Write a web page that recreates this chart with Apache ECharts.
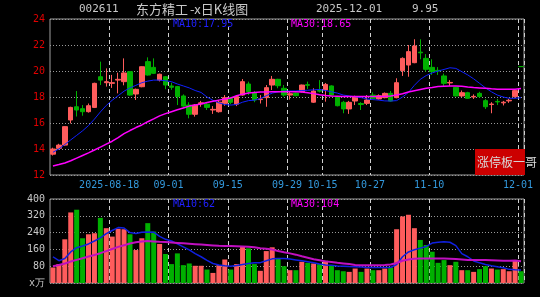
<!DOCTYPE html>
<html><head><meta charset="utf-8">
<script src="https://cdn.jsdelivr.net/npm/echarts@6/dist/echarts.min.js"></script>
<style>html,body{margin:0;padding:0;background:#000;}#c{width:540px;height:297px;}</style>
</head><body><div id="c"></div>
<script>
const dates = [
'2025-08-04','2025-08-05','2025-08-06','2025-08-07','2025-08-08','2025-08-11','2025-08-12','2025-08-13','2025-08-14','2025-08-15',
'2025-08-18','2025-08-19','2025-08-20','2025-08-21','2025-08-22','2025-08-25','2025-08-26','2025-08-27','2025-08-28','2025-08-29',
'2025-09-01','2025-09-02','2025-09-03','2025-09-04','2025-09-05','2025-09-08','2025-09-09','2025-09-10','2025-09-11','2025-09-12',
'2025-09-15','2025-09-16','2025-09-17','2025-09-18','2025-09-19','2025-09-22','2025-09-23','2025-09-24','2025-09-25','2025-09-26',
'2025-09-29','2025-09-30','2025-10-09','2025-10-10','2025-10-13','2025-10-14','2025-10-15','2025-10-16','2025-10-17','2025-10-20',
'2025-10-21','2025-10-22','2025-10-23','2025-10-24','2025-10-27','2025-10-28','2025-10-29','2025-10-30','2025-10-31','2025-11-03',
'2025-11-04','2025-11-05','2025-11-06','2025-11-07','2025-11-10','2025-11-11','2025-11-12','2025-11-13','2025-11-14','2025-11-17',
'2025-11-18','2025-11-19','2025-11-20','2025-11-21','2025-11-24','2025-11-25','2025-11-26','2025-11-27','2025-11-28','2025-12-01'];

const opens = [13.6,14.05,14.3,16.23,17.25,17.1,16.87,17.2,19.56,19.1,
19.05,19.3,19.18,19.95,18.23,18.79,20.72,20.28,19.3,19.56,
18.85,18.8,18.08,17.38,16.67,17.48,17.45,17.0,16.87,17.51,
17.9,17.44,18.15,19.0,18.33,17.8,17.95,18.92,19.36,18.67,
18.15,18.3,18.41,18.95,17.6,18.5,18.54,18.85,18.03,17.59,
17.08,17.69,17.5,17.51,18.15,17.85,17.95,18.28,17.95,20.03,
20.46,20.64,21.45,20.97,20.28,20.05,19.62,19.08,18.74,18.08,
18.33,18.0,18.28,17.72,17.42,17.66,17.55,17.7,18.03,20.34];

const closes = [14.0,14.3,15.72,17.2,17.0,16.87,17.33,19.05,19.3,19.18,
19.1,19.36,19.85,18.15,18.59,20.33,19.69,19.82,19.75,18.92,
18.75,18.03,17.3,16.67,17.38,17.55,17.2,17.05,17.6,17.95,
17.59,18.03,19.18,18.41,17.77,17.85,18.72,19.36,18.87,18.15,
18.25,18.1,18.92,18.9,18.46,18.45,18.97,18.15,17.33,17.08,
17.59,18.03,17.42,17.77,17.9,18.1,18.28,17.69,19.1,20.97,
21.49,21.92,21.4,20.13,19.95,20.0,19.05,19.12,18.08,18.33,
17.9,18.05,18.03,17.25,17.46,17.62,17.6,17.75,18.49,20.34];

const lows = [13.5,13.95,14.25,15.97,16.5,16.56,16.8,17.15,18.92,18.8,
18.7,18.28,18.9,18.1,17.77,18.75,19.65,19.78,19.2,18.6,
18.55,17.38,17.2,16.36,16.49,17.25,17.0,16.7,16.8,17.33,
17.45,17.3,18.1,18.15,17.6,17.5,17.25,18.54,18.67,18.03,
17.8,18.05,18.35,18.62,17.55,18.35,17.64,18.1,17.28,16.75,
16.7,17.38,17.0,17.38,17.85,17.8,17.9,17.65,17.9,19.62,
19.56,20.6,20.9,19.95,19.7,19.7,18.85,18.85,18.05,18.0,
17.85,17.85,17.95,17.08,16.75,17.38,17.35,17.55,17.95,20.34];

const highs = [14.1,14.4,15.75,17.25,18.46,17.38,17.5,19.1,20.72,20.2,
19.7,19.87,20.97,20.0,18.65,20.35,21.05,20.97,19.8,19.6,
19.1,18.85,18.2,17.6,17.45,17.7,17.55,17.3,17.77,18.15,
18.0,18.1,19.38,19.18,18.46,18.15,18.92,19.62,19.4,18.92,
18.45,18.35,18.95,19.18,18.67,19.3,19.08,18.9,18.08,17.7,
17.7,18.1,17.6,18.15,18.36,18.2,18.35,18.46,19.44,21.05,
22.0,22.44,22.44,21.3,20.9,20.3,19.8,19.3,18.78,18.5,
18.4,18.2,18.4,17.85,17.6,17.85,17.7,17.85,18.55,20.34];

const volumes = [74,90,208,336,349,213,232,237,310,261,
221,258,256,232,157,213,285,245,186,138,
90,141,85,93,82,82,64,48,85,112,
64,90,176,165,90,58,152,170,117,80,
61,61,101,96,93,90,106,85,61,56,
53,69,53,69,61,61,69,74,256,317,
325,261,205,181,149,96,109,85,101,61,
61,53,66,80,69,64,66,56,109,56];

const ma10 = [13.75,14.0,14.35,14.7,15.05,15.4,15.8,16.3,16.85,17.35,
17.75,18.1,18.45,18.7,18.9,19.1,19.22,19.3,19.3,19.25,
19.18,19.0,18.85,18.7,18.5,18.35,18.0,17.75,17.55,17.42,
17.38,17.42,17.6,17.72,17.76,17.88,18.1,18.3,18.4,18.45,
18.46,18.46,18.5,18.52,18.55,18.58,18.5,18.4,18.3,18.15,
18.08,18.02,17.95,17.85,17.8,17.76,17.7,17.69,17.72,18.0,
18.35,18.9,19.36,19.65,19.85,20.0,20.12,20.25,20.2,19.95,
19.7,19.4,19.05,18.7,18.4,18.15,18.0,17.9,17.9,17.95];

const ma30 = [12.7,12.8,12.92,13.1,13.3,13.5,13.7,13.92,14.15,14.38,
14.6,14.88,15.18,15.42,15.65,15.85,16.1,16.32,16.55,16.72,
16.87,17.02,17.16,17.3,17.38,17.46,17.57,17.67,17.76,17.84,
17.92,18.1,18.22,18.3,18.35,18.38,18.38,18.4,18.41,18.41,
18.41,18.41,18.38,18.33,18.26,18.18,18.12,18.08,18.06,18.04,
18.03,18.03,18.03,18.03,18.03,18.03,18.05,18.08,18.15,18.25,
18.38,18.48,18.58,18.67,18.73,18.8,18.83,18.85,18.85,18.82,
18.77,18.73,18.7,18.67,18.63,18.6,18.59,18.59,18.6,18.65];

const volMa10 = [125,106,117,148,168,176,186,200,215,235,
250,264,262,240,236,242,243,242,222,208,
200,186,172,158,140,125,108,93,86,82,
80,83,88,93,96,97,106,115,117,117,
114,110,106,101,96,90,86,84,81,80,
78,77,76,74,74,74,74,74,88,125,
148,158,166,174,190,194,196,194,178,140,
125,105,96,88,82,77,73,65,63,62];

const volMa30 = [80,86,93,102,110,118,126,133,142,152,
162,172,180,188,194,198,200,198,196,195,
193,191,189,187,185,183,181,179,177,176,
176,175,174,173,170,166,163,159,152,146,
141,135,127,120,113,108,103,100,96,93,
90,86,85,85,85,85,86,88,95,106,
112,116,117,117,117,117,117,116,114,112,
110,109,109,109,108,107,106,106,107,104];

const tickDates = ['2025-08-18','2025-09-01','2025-09-15','2025-09-29','2025-10-15','2025-10-27','2025-11-10','2025-12-01'];
const tickLabels = ['2025-08-18','09-01','09-15','09-29','10-15','10-27','11-10','12-01'];

const UP = '#ff5c5c', DOWN = '#00b000';
const MONO = '"DejaVu Sans Mono", monospace';
const CJK = '"Noto Sans CJK SC", sans-serif';

const tickIdx = new Set(tickDates.map(d => dates.indexOf(d)));
const labelOf = {};
tickDates.forEach((d, i) => { labelOf[d] = tickLabels[i]; });

const kData = dates.map((d, i) => {
  const item = { value: [opens[i], closes[i], lows[i], highs[i]] };
  if (opens[i] === closes[i]) item.itemStyle = { color: DOWN, borderColor: DOWN };
  return item;
});
const volData = dates.map((d, i) => ({
  value: volumes[i],
  itemStyle: { color: closes[i] > opens[i] ? UP : DOWN }
}));

const vSplit = { show: true, interval: (i) => tickIdx.has(i), lineStyle: { color: '#d0d0d0', type: [4, 3], width: 1 } };
const hSplit = { show: true, lineStyle: { color: '#9a9a9a', type: [1, 2], width: 1 } };

function txt(x, y, text, fill, font) {
  return { type: 'text', x: x, y: y, silent: true, z: 100,
    style: { text: text, fill: fill, font: font, verticalAlign: 'middle', align: 'left' } };
}

const chart = echarts.init(document.getElementById('c'), null, { renderer: 'canvas' });
chart.setOption({
  backgroundColor: '#000',
  animation: false,
  grid: [
    { left: 50, right: 16, top: 19, height: 156, show: true, borderColor: '#a0a0a0', borderWidth: 1 },
    { left: 50, right: 16, top: 199, height: 84, show: true, borderColor: '#a0a0a0', borderWidth: 1 }
  ],
  xAxis: [
    { type: 'category', gridIndex: 0, data: dates, boundaryGap: true,
      axisLine: { show: false }, axisTick: { show: false },
      axisLabel: { interval: (i) => tickIdx.has(i), formatter: (v) => labelOf[v] || '', color: '#3399dd',
        fontFamily: 'DejaVu Sans Mono', fontSize: 10, margin: 5, padding: [0, 6, 0, 0], hideOverlap: false },
      splitLine: vSplit },
    { type: 'category', gridIndex: 1, data: dates, boundaryGap: true,
      axisLine: { show: false }, axisTick: { show: false }, axisLabel: { show: false },
      splitLine: vSplit }
  ],
  yAxis: [
    { type: 'value', gridIndex: 0, min: 12, max: 24, interval: 2,
      axisLine: { show: false }, axisTick: { show: false },
      axisLabel: { color: '#e00000', fontFamily: 'DejaVu Sans Mono', fontSize: 10, margin: 5 },
      splitLine: hSplit },
    { type: 'value', gridIndex: 1, min: 0, max: 400, interval: 80,
      axisLine: { show: false }, axisTick: { show: false },
      axisLabel: { color: '#c8c8c8', fontFamily: 'DejaVu Sans Mono', fontSize: 10, margin: 5,
        formatter: (v) => v === 0 ? 'x万' : String(v) },
      splitLine: hSplit }
  ],
  series: [
    { type: 'candlestick', xAxisIndex: 0, yAxisIndex: 0, data: kData, barWidth: 5,
      itemStyle: { color: UP, color0: DOWN, borderColor: UP, borderColor0: DOWN, borderWidth: 1 } },
    { type: 'line', xAxisIndex: 0, yAxisIndex: 0, data: ma10, symbol: 'none', lineStyle: { color: '#1020ff', width: 1 } },
    { type: 'line', xAxisIndex: 0, yAxisIndex: 0, data: ma30, symbol: 'none', lineStyle: { color: '#ff00ff', width: 1.5 } },
    { type: 'bar', xAxisIndex: 1, yAxisIndex: 1, data: volData, barWidth: 5 },
    { type: 'line', xAxisIndex: 1, yAxisIndex: 1, data: volMa10, symbol: 'none', lineStyle: { color: '#1020e0', width: 1.5 } },
    { type: 'line', xAxisIndex: 1, yAxisIndex: 1, data: volMa30, symbol: 'none', lineStyle: { color: '#c010c0', width: 2 } }
  ],
  graphic: [
    txt(79, 9.5, '002611', '#c8c8c8', '11px ' + MONO),
    txt(136, 9.5, '东方精工', '#c8c8c8', '13px ' + CJK),
    txt(190, 9.5, '-x日K线图', '#c8c8c8', '13px ' + CJK),
    txt(316, 9.5, '2025-12-01', '#c8c8c8', '11px ' + MONO),
    txt(412, 9.5, '9.95', '#c8c8c8', '11px ' + MONO),
    txt(173, 24, 'MA10:17.95', '#2020ff', '10px ' + MONO),
    txt(291, 24, 'MA30:18.65', '#ff00ff', '10px ' + MONO),
    txt(173, 204, 'MA10:62', '#2020ff', '10px ' + MONO),
    txt(291, 204, 'MA30:104', '#ff00ff', '10px ' + MONO),
    { type: 'rect', shape: { x: 475, y: 149, width: 50, height: 26 }, style: { fill: '#cc0000' }, z: 99, silent: true },
    txt(477, 162.5, '涨停板一哥', '#d8d8d8', '12px ' + CJK)
  ]
});
</script>
</body></html>
